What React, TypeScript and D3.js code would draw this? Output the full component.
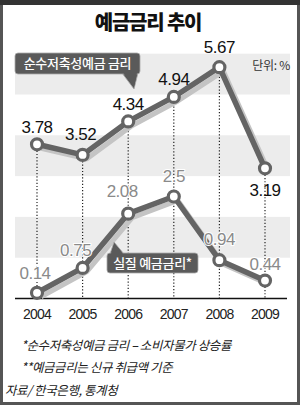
import React from 'react';
import * as d3 from 'd3';

// chart data
const years = ['2004', '2005', '2006', '2007', '2008', '2009'];
const nominalRate = [3.78, 3.52, 4.34, 4.94, 5.67, 3.19];
const realRate = [0.14, 0.75, 2.08, 2.5, 0.94, 0.44];
const bandRanges = [[1, 2], [3, 4], [5, 6]];

// label placement relative to each point
const nominalLabelDy = [-11, -15, -11, -12, -14, 28];
const nominalLabelDx = [0, -2, 0, 0, 0, 0];
const realLabelDy = [-14, -12, -17, -15, -15, -11];
const realLabelDx = [-2, -7, -6, 0, 0, 0];

const num = '"Liberation Sans", Arial, sans-serif';
const kr = '"Noto Sans CJK KR", sans-serif';

const App = () => {
  const width = 300;
  const height = 405;

  const x = d3.scalePoint<string>().domain(years).range([37, 265]);
  const y = d3.scaleLinear().domain([0, 6]).range([298.5, 53.7]);

  const line = d3.line<number>()
    .x((_, i) => x(years[i]) as number)
    .y(d => y(d));

  const lineColor = '#646464';
  const shadowColor = '#c4c4c4';

  return (
    <svg width={width} height={height} style={{ position: 'absolute', left: 0, top: 0 }}>
      <rect x={0} y={0} width={width} height={height} fill="#fff" />

      {/* grey bands */}
      {bandRanges.map(([a, b], i) => (
        <rect key={i} x={15} y={y(b)} width={275} height={y(a) - y(b)} fill="#ececec" />
      ))}

      {/* title */}
      <text x={148} y={30} textAnchor="middle" fontFamily={kr} fontWeight={900} fontSize={20} letterSpacing={-1.2} fill="#111">
        예금금리 추이
      </text>
      <text x={290} y={70} textAnchor="end" fontFamily={kr} fontSize={12} letterSpacing={-0.3} fill="#333">단위: %</text>

      {/* dotted drop lines */}
      {years.map((yr, i) => (
        <line key={yr} x1={x(yr)} x2={x(yr)} y1={y(nominalRate[i])} y2={y(0)}
          stroke="#222" strokeWidth={1.2} strokeDasharray="1.2,2" />
      ))}

      {/* axis */}
      <line x1={15} x2={287} y1={y(0)} y2={y(0)} stroke="#111" strokeWidth={1.5} />
      {years.map(yr => (
        <text key={yr} x={x(yr)} y={319} textAnchor="middle" fontFamily={num} fontSize={14} letterSpacing={-0.8} fill="#222">
          {yr}
        </text>
      ))}

      {/* shadows */}
      {[nominalRate, realRate].map((s, k) => (
        <path key={k} d={line(s) || ''} transform="translate(4,4)" fill="none" stroke={shadowColor} strokeWidth={5} strokeLinejoin="round" />
      ))}

      {/* lines */}
      {[nominalRate, realRate].map((s, k) => (
        <path key={k} d={line(s) || ''} fill="none" stroke={lineColor} strokeWidth={5.5} strokeLinejoin="round" />
      ))}
      {[nominalRate, realRate].map((s, k) =>
        s.map((v, i) => (
          <circle key={`${k}-${i}`} cx={x(years[i])} cy={y(v)} r={5.5} fill="#fff" stroke={lineColor} strokeWidth={3.2} />
        ))
      )}

      {/* value labels */}
      {nominalRate.map((v, i) => (
        <text key={i} x={(x(years[i]) as number) + nominalLabelDx[i]} y={y(v) + nominalLabelDy[i]}
          textAnchor="middle" fontFamily={num} fontSize={17} letterSpacing={-0.5} fill="#111">
          {v}
        </text>
      ))}
      {realRate.map((v, i) => (
        <text key={i} x={(x(years[i]) as number) + realLabelDx[i]} y={y(v) + realLabelDy[i]}
          textAnchor="middle" fontFamily={num} fontSize={17} letterSpacing={-0.5} fill="#8a8a8a"
          stroke="#fff" strokeWidth={2} paintOrder="stroke">
          {v}
        </text>
      ))}

      {/* callouts */}
      <g>
        <path d="M122,73 L138,73 L134,89 Z" fill="#5a5a5a" stroke="#aaa" strokeWidth={0.8} />
        <rect x={15} y={53} width={125} height={21} rx={3} fill="#5a5a5a" stroke="#aaa" strokeWidth={0.8} />
        <path d="M123,72.5 L137,72.5 L134,87" fill="#5a5a5a" />
        <text x={77.5} y={68} textAnchor="middle" fontFamily={kr} fontSize={13} fontWeight={500} letterSpacing={-0.3} fill="#fff">
          순수저축성예금 금리
        </text>
      </g>
      <g>
        <path d="M110,254 L124,254 L114,242 Z" fill="#5a5a5a" stroke="#aaa" strokeWidth={0.8} />
        <rect x={107} y={253} width={91} height={20} rx={3} fill="#5a5a5a" stroke="#aaa" strokeWidth={0.8} />
        <path d="M111,254 L123,254 L114.5,243.5" fill="#5a5a5a" />
        <text x={152.5} y={268} textAnchor="middle" fontFamily={kr} fontSize={13} fontWeight={500} letterSpacing={-0.3} fill="#fff">
          실질 예금금리*
        </text>
      </g>

      {/* footnotes */}
      <text x={21} y={350} fontFamily={kr} fontSize={12.5} fontStyle="italic" letterSpacing={-0.4} fill="#222">
        *순수저축성예금 금리 – 소비자물가 상승률
      </text>
      <text x={21} y={372} fontFamily={kr} fontSize={12.5} fontStyle="italic" letterSpacing={-0.4} fill="#222">
        **예금금리는 신규 취급액 기준
      </text>
      <text x={5} y={395} fontFamily={kr} fontSize={12.5} fontStyle="italic" letterSpacing={-0.4} fill="#222">
        자료/ 한국은행, 통계청
      </text>

      {/* frame */}
      <rect x={1.5} y={1.5} width={297} height={402} fill="none" stroke="#555" strokeWidth={3} />
      <rect x={0} y={0} width={300} height={5} fill="#333" />
    </svg>
  );
};

export default App;
